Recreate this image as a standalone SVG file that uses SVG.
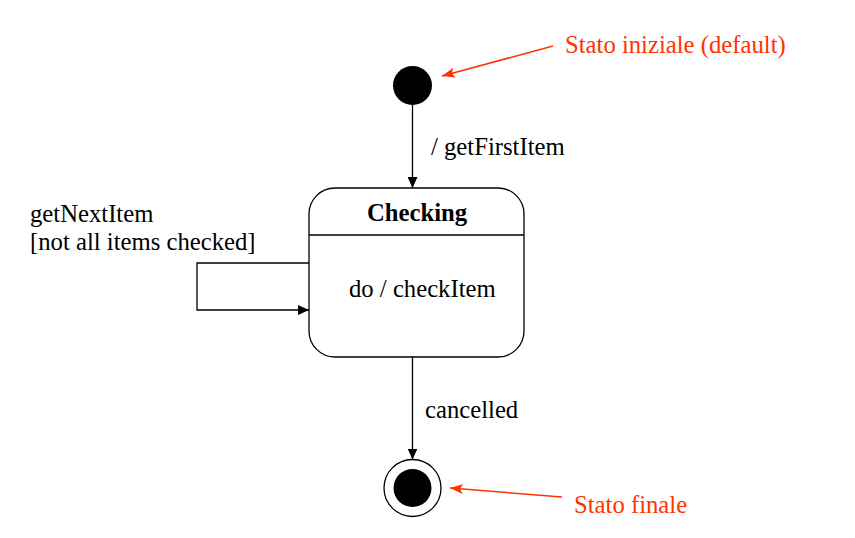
<svg xmlns="http://www.w3.org/2000/svg" width="855" height="538" viewBox="0 0 855 538">
<defs>
<marker id="ah" markerWidth="12" markerHeight="10" refX="11" refY="5" orient="auto" markerUnits="userSpaceOnUse">
<path d="M0,0 L11,5 L0,10 Z" fill="#000"/>
</marker>
<marker id="ahr" markerWidth="14" markerHeight="10" refX="13" refY="5" orient="auto" markerUnits="userSpaceOnUse">
<path d="M0,0 L13,5 L0,10 L3,5 Z" fill="#FF3300"/>
</marker>
</defs>
<style>
text{font-family:"Liberation Serif","Times New Roman",serif;font-size:24.7px;fill:#000}
.red{fill:#FF3300}
.b{font-weight:bold}
.ln{stroke:#000;stroke-width:1.3;fill:none}
.rl{stroke:#FF3300;stroke-width:1.5;fill:none}
</style>
<rect width="855" height="538" fill="#fff"/>
<g id="initial">
<circle cx="412.5" cy="85.5" r="19.5" fill="#000"/>
</g>
<g id="checking">
<rect x="309" y="188" width="215" height="169" rx="26" ry="26" fill="#fff" stroke="#000" stroke-width="1.3"/>
<line x1="309" y1="235" x2="524" y2="235" stroke="#000" stroke-width="1.3"/>
<text x="417" y="221" text-anchor="middle" class="b">Checking</text>
<text x="349" y="297">do / checkItem</text>
</g>
<g id="final">
<circle cx="412.5" cy="488" r="28.5" fill="#fff" stroke="#000" stroke-width="1.3"/>
<circle cx="412.5" cy="488" r="19" fill="#000"/>
</g>
<g id="connectors">
<line class="ln" x1="412.5" y1="105" x2="412.5" y2="188" marker-end="url(#ah)"/>
<text x="431" y="155">/ getFirstItem</text>
<polyline class="ln" points="309,263 197,263 197,310 309,310" marker-end="url(#ah)"/>
<text x="30" y="222">getNextItem</text>
<text x="30" y="250">[not all items checked]</text>
<line class="ln" x1="412.5" y1="357" x2="412.5" y2="459.5" marker-end="url(#ah)"/>
<text x="425" y="418">cancelled</text>
</g>
<g id="notes">
<line class="rl" x1="553" y1="46" x2="442" y2="76" marker-end="url(#ahr)"/>
<text x="565" y="53" class="red">Stato iniziale (default)</text>
<line class="rl" x1="562" y1="497" x2="450" y2="488" marker-end="url(#ahr)"/>
<text x="574" y="513" class="red">Stato finale</text>
</g>
</svg>
